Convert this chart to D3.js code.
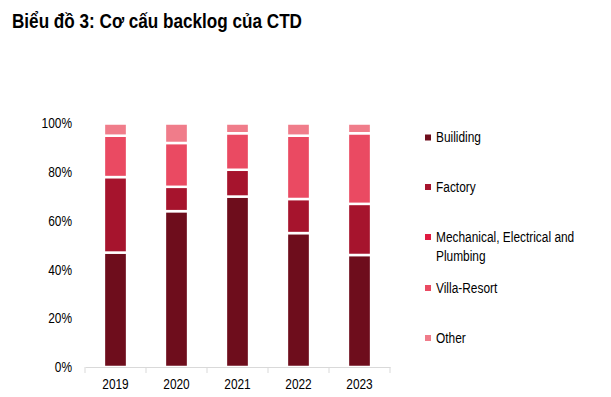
<!DOCTYPE html>
<html><head><meta charset="utf-8">
<script src="https://cdn.jsdelivr.net/npm/d3@7"></script>
<style>
html,body{margin:0;padding:0;background:#fff;}
svg{display:block;}
text{font-family:"Liberation Sans",Arial,sans-serif;}
</style></head>
<body>
<svg id="chart" width="611" height="397"></svg>
<script>
const years = ["2019","2020","2021","2022","2023"];
const seriesNames = ["Builiding","Factory","Mechanical, Electrical and Plumbing","Villa-Resort","Other"];
const building = [47,64,70,55,46];
const factory  = [31,10,11,14,21];
const mep      = [0,0,0,0,0];
const villa    = [17,18,15,26,29];
const other    = [5,8,4,5,4];
const yTicks = [0,20,40,60,80,100];
const colors = ["#6E0D1C","#A6142D","#E01A40","#EA4A62","#F07C8A"];

const NARROW = 0.85;
function narrow(sel){
  sel.each(function(){
    const l=this.getComputedTextLength();
    if(l>0) d3.select(this).attr("textLength",l*NARROW).attr("lengthAdjust","spacingAndGlyphs");
  });
}

const svg = d3.select("#chart");
const seriesVals = [building,factory,mep,villa,other];
const rows = years.map((y,i)=>{const r={year:y}; seriesNames.forEach((s,k)=>r[s]=seriesVals[k][i]); return r;});
const stacked = d3.stack().keys(seriesNames)(rows);

const x = d3.scaleBand().domain(years).range([85,390]).paddingInner(0.62).paddingOuter(0.31);
const y = d3.scaleLinear().domain([0,100]).range([367,123.5]);

const title = svg.append("text").attr("x",12).attr("y",28).attr("font-size",20).attr("font-weight","bold")
  .attr("fill","#000").text("Biểu đồ 3: Cơ cấu backlog của CTD");
title.attr("textLength",290).attr("lengthAdjust","spacingAndGlyphs");

// y axis labels
svg.append("g").selectAll("text").data(yTicks).join("text")
  .attr("x",72).attr("y",d=>y(d)).attr("dy","0.35em").attr("text-anchor","end")
  .attr("font-size",14).attr("fill","#000").text(d=>d+"%").call(narrow);

// bars
svg.append("g").selectAll("g").data(stacked).join("g").attr("fill",(d,i)=>colors[i])
  .selectAll("rect").data(d=>d.filter(v=>v[1]-v[0]>0)).join("rect")
  .attr("x",d=>x(d.data.year)).attr("width",x.bandwidth())
  .attr("y",d=>y(d[1])).attr("height",d=>y(d[0])-y(d[1]))
  .attr("stroke","#fff").attr("stroke-width",2.5);

// x axis
const xa = svg.append("g").attr("transform","translate(0,367)")
  .call(d3.axisBottom(x).tickSize(0).tickPadding(12));
xa.select(".domain").attr("stroke","#d9d9d9");
xa.selectAll("text").attr("font-size",14).attr("fill","#000")
  .attr("font-family",'"Liberation Sans",Arial,sans-serif').call(narrow);
const bounds = d3.range(years.length+1).map(i=>85+i*(305/years.length));
xa.selectAll("line.sep").data(bounds).join("line").attr("class","sep")
  .attr("x1",d=>d).attr("x2",d=>d).attr("y1",0).attr("y2",6).attr("stroke","#d9d9d9");

// legend
const legY = [137.5,187,237,288,338];
const lg = svg.append("g").selectAll("g").data(seriesNames).join("g")
  .attr("transform",(d,i)=>`translate(425,${legY[i]})`);
lg.append("rect").attr("x",0).attr("y",-3).attr("width",6).attr("height",6).attr("fill",(d,i)=>colors[i]);
lg.each(function(d){
  const g=d3.select(this);
  const lines = d.startsWith("Mechanical") ? ["Mechanical, Electrical and","Plumbing"] : [d];
  lines.forEach((ln,j)=>{
    g.append("text").attr("x",11).attr("y",j*19).attr("dy","0.35em").attr("font-size",14)
      .attr("fill","#000").text(ln).call(narrow);
  });
});
</script>
</body></html>
